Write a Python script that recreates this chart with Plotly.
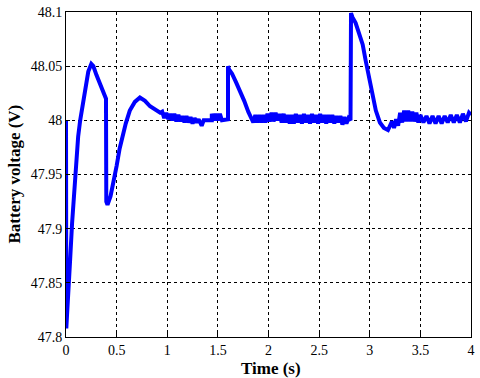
import plotly.graph_objects as go

time_s = [0, 0, 0.003, 0.01, 0.02, 0.04, 0.06, 0.09, 0.12, 0.14, 0.17, 0.19, 0.22, 0.25, 0.27, 0.30, 0.336, 0.37, 0.395,
          0.398, 0.41, 0.44, 0.47, 0.5, 0.53, 0.56, 0.59, 0.63, 0.68, 0.73, 0.78, 0.83, 0.88, 0.93,
          0.95, 0.97, 0.99, 1.01, 1.03, 1.05, 1.07, 1.09, 1.11, 1.13, 1.15, 1.17, 1.19, 1.21, 1.23, 1.25, 1.27, 1.29, 1.31, 1.34,
          1.36, 1.44, 1.44, 1.46, 1.48, 1.50, 1.52, 1.54, 1.60,
          1.60, 1.61, 1.64, 1.68, 1.72, 1.76, 1.80, 1.83,
          1.85, 1.87, 1.89, 1.91, 1.93, 1.95, 1.97, 1.99, 2.01, 2.03, 2.05, 2.07, 2.09, 2.11, 2.13, 2.15, 2.17, 2.19, 2.21, 2.23,
          2.25, 2.27, 2.29, 2.31, 2.33, 2.35, 2.37, 2.39, 2.41, 2.43, 2.45, 2.47, 2.49, 2.51, 2.53, 2.55, 2.57, 2.59, 2.61, 2.63,
          2.65, 2.67, 2.69, 2.71, 2.73, 2.75, 2.77, 2.79, 2.81,
          2.815, 2.83, 2.86, 2.90, 2.93, 2.96, 3.00, 3.03, 3.06, 3.10, 3.14, 3.18,
          3.22, 3.24, 3.26, 3.28, 3.30, 3.32, 3.34, 3.36, 3.38, 3.40, 3.42, 3.44, 3.46, 3.48, 3.50, 3.53, 3.56, 3.59, 3.62, 3.65,
          3.68, 3.71, 3.74, 3.77, 3.80, 3.83, 3.86, 3.89, 3.92, 3.95, 3.98, 4.0]

voltage = [48.0, 47.81, 47.808, 47.82, 47.834, 47.87, 47.905, 47.95, 47.985, 48.0, 48.018, 48.028, 48.045, 48.052, 48.05, 48.042, 48.034, 48.027, 48.02,
           47.925, 47.922, 47.93, 47.942, 47.958, 47.974, 47.986, 47.997, 48.009, 48.017, 48.021, 48.018, 48.013, 48.01, 48.007,
           48.008, 48.002, 48.007, 48.001, 48.006, 48.0, 48.006, 47.999, 48.005, 47.999, 48.004, 47.998, 48.004, 47.998, 48.003, 47.997, 48.002, 47.998, 48.001, 47.995,
           48.0, 48.0, 48.006, 48.0, 48.006, 48.0, 48.006, 48.0, 48.001,
           48.05, 48.047, 48.043, 48.035, 48.027, 48.018, 48.008, 48.003,
           47.998, 48.005, 47.998, 48.005, 47.998, 48.005, 47.998, 48.006, 47.999, 48.007, 47.999, 48.007, 48.0, 48.006, 47.998, 48.006, 47.998, 48.005, 47.997, 48.005,
           47.997, 48.006, 47.998, 48.005, 47.997, 48.006, 47.998, 48.005, 47.997, 48.006, 47.998, 48.005, 47.997, 48.006, 47.998, 48.005, 47.997, 48.005, 47.998, 48.005,
           47.997, 48.004, 47.998, 48.004, 47.996, 48.003, 47.997, 48.002, 48.0,
           48.099, 48.095, 48.09, 48.079, 48.07, 48.055, 48.035, 48.02, 48.009, 47.998, 47.993, 47.991,
           47.999, 47.993, 48.001, 47.995, 48.007, 47.998, 48.009, 47.999, 48.009, 47.999, 48.008, 47.999, 48.007, 47.998, 48.005, 47.998, 48.004, 47.997, 48.004, 47.997,
           48.004, 47.997, 48.004, 47.998, 48.005, 47.998, 48.005, 47.998, 48.006, 47.999, 48.007, 48.005]

x_ticks = [0, 0.5, 1, 1.5, 2, 2.5, 3, 3.5, 4]
x_tick_labels = ["0", "0.5", "1", "1.5", "2", "2.5", "3", "3.5", "4"]
y_ticks = [47.8, 47.85, 47.9, 47.95, 48.0, 48.05, 48.1]
y_tick_labels = ["47.8", "47.85", "47.9", "47.95", "48", "48.05", "48.1"]

fig = go.Figure()
fig.add_trace(go.Scatter(x=time_s, y=voltage, mode="lines",
                         line=dict(color="#0000FF", width=4), showlegend=False))

font_family = "Liberation Serif, Times New Roman, serif"
axis_common = dict(showline=True, linecolor="black", linewidth=1, mirror=True,
                   showgrid=True, gridcolor="black", gridwidth=1, griddash="dot",
                   ticks="inside", ticklen=4, tickcolor="black", zeroline=False,
                   automargin=False,
                   tickfont=dict(family=font_family, size=14, color="black"))

fig.update_xaxes(range=[0, 4], tickvals=x_ticks, ticktext=x_tick_labels, ticklabelstandoff=0, **axis_common)
fig.update_yaxes(range=[47.8, 48.1], tickvals=y_ticks, ticktext=y_tick_labels, **axis_common)

fig.add_annotation(text="<b>Time (s)</b>", xref="paper", yref="paper", x=0.506, y=-0.06,
                   xanchor="center", yanchor="top", showarrow=False,
                   font=dict(family=font_family, size=17, color="black"))
fig.add_annotation(text="<b>Battery voltage (V)</b>", xref="paper", yref="paper", x=-0.10, y=0.5,
                   xanchor="right", yanchor="middle", textangle=-90, showarrow=False,
                   font=dict(family=font_family, size=17, color="black"))

fig.update_layout(width=480, height=378, margin=dict(l=66, r=9, t=12, b=41, autoexpand=False),
                  paper_bgcolor="white", plot_bgcolor="white")

fig.write_html("out.html", config={"displayModeBar": False},
               post_script="document.body.style.margin='0';")
